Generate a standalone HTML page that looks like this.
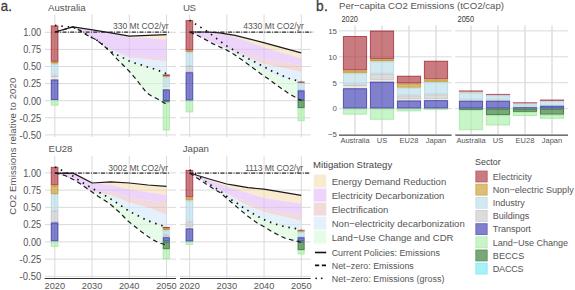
<!DOCTYPE html>
<html><head><meta charset="utf-8"><style>
html,body{margin:0;padding:0;background:#fff;overflow:hidden;width:575px;height:290px;}
svg{display:block;font-family:"Liberation Sans", sans-serif;}
</style></head><body>
<svg width="575" height="290" viewBox="0 0 575 290">
<rect width="575" height="290" fill="#fff"/>
<g>
<rect width="575" height="290" fill="#fff"/>
<line x1="45.00" y1="32.30" x2="176.00" y2="32.30" stroke="#dadada" stroke-width="1"/>
<line x1="45.00" y1="49.40" x2="176.00" y2="49.40" stroke="#dadada" stroke-width="1"/>
<line x1="45.00" y1="66.50" x2="176.00" y2="66.50" stroke="#dadada" stroke-width="1"/>
<line x1="45.00" y1="83.60" x2="176.00" y2="83.60" stroke="#dadada" stroke-width="1"/>
<line x1="45.00" y1="100.70" x2="176.00" y2="100.70" stroke="#dadada" stroke-width="1"/>
<line x1="45.00" y1="117.80" x2="176.00" y2="117.80" stroke="#dadada" stroke-width="1"/>
<line x1="45.00" y1="134.90" x2="176.00" y2="134.90" stroke="#dadada" stroke-width="1"/>
<line x1="54.80" y1="14.50" x2="54.80" y2="137.00" stroke="#dadada" stroke-width="1"/>
<line x1="92.03" y1="14.50" x2="92.03" y2="137.00" stroke="#dadada" stroke-width="1"/>
<line x1="129.26" y1="14.50" x2="129.26" y2="137.00" stroke="#dadada" stroke-width="1"/>
<line x1="166.49" y1="14.50" x2="166.49" y2="137.00" stroke="#dadada" stroke-width="1"/>
<line x1="45.00" y1="172.85" x2="176.00" y2="172.85" stroke="#dadada" stroke-width="1"/>
<line x1="45.00" y1="190.10" x2="176.00" y2="190.10" stroke="#dadada" stroke-width="1"/>
<line x1="45.00" y1="207.35" x2="176.00" y2="207.35" stroke="#dadada" stroke-width="1"/>
<line x1="45.00" y1="224.60" x2="176.00" y2="224.60" stroke="#dadada" stroke-width="1"/>
<line x1="45.00" y1="241.85" x2="176.00" y2="241.85" stroke="#dadada" stroke-width="1"/>
<line x1="45.00" y1="259.10" x2="176.00" y2="259.10" stroke="#dadada" stroke-width="1"/>
<line x1="45.00" y1="276.35" x2="176.00" y2="276.35" stroke="#dadada" stroke-width="1"/>
<line x1="54.80" y1="156.00" x2="54.80" y2="278.00" stroke="#dadada" stroke-width="1"/>
<line x1="92.03" y1="156.00" x2="92.03" y2="278.00" stroke="#dadada" stroke-width="1"/>
<line x1="129.26" y1="156.00" x2="129.26" y2="278.00" stroke="#dadada" stroke-width="1"/>
<line x1="166.49" y1="156.00" x2="166.49" y2="278.00" stroke="#dadada" stroke-width="1"/>
<line x1="180.00" y1="32.30" x2="310.70" y2="32.30" stroke="#dadada" stroke-width="1"/>
<line x1="180.00" y1="49.40" x2="310.70" y2="49.40" stroke="#dadada" stroke-width="1"/>
<line x1="180.00" y1="66.50" x2="310.70" y2="66.50" stroke="#dadada" stroke-width="1"/>
<line x1="180.00" y1="83.60" x2="310.70" y2="83.60" stroke="#dadada" stroke-width="1"/>
<line x1="180.00" y1="100.70" x2="310.70" y2="100.70" stroke="#dadada" stroke-width="1"/>
<line x1="180.00" y1="117.80" x2="310.70" y2="117.80" stroke="#dadada" stroke-width="1"/>
<line x1="180.00" y1="134.90" x2="310.70" y2="134.90" stroke="#dadada" stroke-width="1"/>
<line x1="189.60" y1="14.50" x2="189.60" y2="137.00" stroke="#dadada" stroke-width="1"/>
<line x1="226.83" y1="14.50" x2="226.83" y2="137.00" stroke="#dadada" stroke-width="1"/>
<line x1="264.06" y1="14.50" x2="264.06" y2="137.00" stroke="#dadada" stroke-width="1"/>
<line x1="301.29" y1="14.50" x2="301.29" y2="137.00" stroke="#dadada" stroke-width="1"/>
<line x1="180.00" y1="172.85" x2="310.70" y2="172.85" stroke="#dadada" stroke-width="1"/>
<line x1="180.00" y1="190.10" x2="310.70" y2="190.10" stroke="#dadada" stroke-width="1"/>
<line x1="180.00" y1="207.35" x2="310.70" y2="207.35" stroke="#dadada" stroke-width="1"/>
<line x1="180.00" y1="224.60" x2="310.70" y2="224.60" stroke="#dadada" stroke-width="1"/>
<line x1="180.00" y1="241.85" x2="310.70" y2="241.85" stroke="#dadada" stroke-width="1"/>
<line x1="180.00" y1="259.10" x2="310.70" y2="259.10" stroke="#dadada" stroke-width="1"/>
<line x1="180.00" y1="276.35" x2="310.70" y2="276.35" stroke="#dadada" stroke-width="1"/>
<line x1="189.60" y1="156.00" x2="189.60" y2="278.00" stroke="#dadada" stroke-width="1"/>
<line x1="226.83" y1="156.00" x2="226.83" y2="278.00" stroke="#dadada" stroke-width="1"/>
<line x1="264.06" y1="156.00" x2="264.06" y2="278.00" stroke="#dadada" stroke-width="1"/>
<line x1="301.29" y1="156.00" x2="301.29" y2="278.00" stroke="#dadada" stroke-width="1"/>
<polygon points="54.80,32.00 73.41,27.00 92.03,29.60 110.64,32.80 129.26,36.20 147.88,35.40 166.49,34.70 166.49,39.80 147.88,38.00 129.26,37.40 110.64,33.40 92.03,29.80 73.41,27.00 54.80,32.00" fill="rgb(247,220,175)" fill-opacity="0.6"/>
<polygon points="54.80,32.00 73.41,27.00 92.03,29.80 110.64,33.40 129.26,37.40 147.88,38.00 166.49,39.80 166.49,58.60 147.88,58.00 129.26,56.80 110.64,49.00 92.03,37.20 73.41,27.20 54.80,32.00" fill="rgb(223,183,247)" fill-opacity="0.6"/>
<polygon points="54.80,32.00 73.41,27.20 92.03,37.20 110.64,49.00 129.26,56.80 147.88,58.00 166.49,58.60 166.49,61.50 147.88,59.60 129.26,57.80 110.64,49.40 92.03,37.30 73.41,27.20 54.80,32.00" fill="rgb(235,193,193)" fill-opacity="0.6"/>
<polygon points="54.80,32.00 73.41,27.20 92.03,37.30 110.64,49.40 129.26,57.80 147.88,59.60 166.49,61.50 166.49,73.80 147.88,67.30 129.26,61.30 110.64,52.20 92.03,37.50 73.41,27.30 54.80,32.00" fill="rgb(210,230,250)" fill-opacity="0.6"/>
<polygon points="54.80,32.00 73.41,27.30 92.03,37.50 110.64,52.20 129.26,61.30 147.88,67.30 166.49,73.80 166.49,104.30 147.88,94.00 129.26,71.50 110.64,52.20 92.03,37.50 73.41,27.30 54.80,32.00" fill="rgb(213,248,217)" fill-opacity="0.6"/>
<polygon points="189.60,32.00 208.22,32.00 226.83,33.60 245.44,38.00 264.06,42.90 282.68,47.80 301.29,52.90 301.29,58.30 282.68,53.00 264.06,47.50 245.44,40.50 226.83,35.00 208.22,32.20 189.60,32.00" fill="rgb(247,220,175)" fill-opacity="0.6"/>
<polygon points="189.60,32.00 208.22,32.20 226.83,35.00 245.44,40.50 264.06,47.50 282.68,53.00 301.29,58.30 301.29,65.20 282.68,62.50 264.06,59.50 245.44,54.50 226.83,48.00 208.22,40.50 189.60,32.00" fill="rgb(223,183,247)" fill-opacity="0.6"/>
<polygon points="189.60,32.00 208.22,40.50 226.83,48.00 245.44,54.50 264.06,59.50 282.68,62.50 301.29,65.20 301.29,72.10 282.68,68.00 264.06,64.00 245.44,56.50 226.83,48.50 208.22,40.70 189.60,32.00" fill="rgb(235,193,193)" fill-opacity="0.6"/>
<polygon points="189.60,32.00 208.22,40.70 226.83,48.50 245.44,56.50 264.06,64.00 282.68,68.00 301.29,72.10 301.29,81.50 282.68,78.00 264.06,70.00 245.44,59.00 226.83,48.80 208.22,40.90 189.60,32.00" fill="rgb(210,230,250)" fill-opacity="0.6"/>
<polygon points="189.60,32.00 208.22,40.90 226.83,48.80 245.44,59.00 264.06,70.00 282.68,78.00 301.29,81.50 301.29,100.60 282.68,88.50 264.06,75.50 245.44,61.50 226.83,49.90 208.22,40.90 189.60,32.00" fill="rgb(213,248,217)" fill-opacity="0.6"/>
<polygon points="54.80,173.20 73.41,173.40 92.03,183.00 110.64,181.60 129.26,182.60 147.88,184.60 166.49,186.40 166.49,195.00 147.88,192.30 129.26,189.50 110.64,184.70 92.03,183.50 73.41,173.60 54.80,173.20" fill="rgb(247,220,175)" fill-opacity="0.6"/>
<polygon points="54.80,173.20 73.41,173.60 92.03,183.50 110.64,184.70 129.26,189.50 147.88,192.30 166.49,195.00 166.49,202.50 147.88,200.50 129.26,197.80 110.64,191.60 92.03,191.50 73.41,179.50 54.80,173.20" fill="rgb(223,183,247)" fill-opacity="0.6"/>
<polygon points="54.80,173.20 73.41,179.50 92.03,191.50 110.64,191.60 129.26,197.80 147.88,200.50 166.49,202.50 166.49,214.70 147.88,207.60 129.26,202.60 110.64,195.00 92.03,191.70 73.41,179.60 54.80,173.20" fill="rgb(235,193,193)" fill-opacity="0.6"/>
<polygon points="54.80,173.20 73.41,179.60 92.03,191.70 110.64,195.00 129.26,202.60 147.88,207.60 166.49,214.70 166.49,226.80 147.88,220.60 129.26,211.20 110.64,198.60 92.03,192.00 73.41,179.70 54.80,173.20" fill="rgb(210,230,250)" fill-opacity="0.6"/>
<polygon points="54.80,173.20 73.41,179.70 92.03,192.00 110.64,198.60 129.26,211.20 147.88,220.60 166.49,226.80 166.49,245.00 147.88,236.00 129.26,222.50 110.64,205.20 92.03,192.30 73.41,179.80 54.80,173.20" fill="rgb(213,248,217)" fill-opacity="0.6"/>
<polygon points="189.60,173.00 208.22,178.50 226.83,184.00 245.44,187.20 264.06,189.10 282.68,192.20 301.29,195.30 301.29,203.70 282.68,201.00 264.06,198.10 245.44,192.20 226.83,186.80 208.22,179.80 189.60,173.00" fill="rgb(247,220,175)" fill-opacity="0.6"/>
<polygon points="189.60,173.00 208.22,179.80 226.83,186.80 245.44,192.20 264.06,198.10 282.68,201.00 301.29,203.70 301.29,215.10 282.68,212.20 264.06,209.10 245.44,200.90 226.83,193.40 208.22,184.00 189.60,173.00" fill="rgb(223,183,247)" fill-opacity="0.6"/>
<polygon points="189.60,173.00 208.22,184.00 226.83,193.40 245.44,200.90 264.06,209.10 282.68,212.20 301.29,215.10 301.29,220.80 282.68,216.50 264.06,211.90 245.44,204.50 226.83,193.80 208.22,184.20 189.60,173.00" fill="rgb(235,193,193)" fill-opacity="0.6"/>
<polygon points="189.60,173.00 208.22,184.20 226.83,193.80 245.44,204.50 264.06,211.90 282.68,216.50 301.29,220.80 301.29,229.70 282.68,225.50 264.06,219.00 245.44,211.00 226.83,197.50 208.22,185.00 189.60,173.00" fill="rgb(210,230,250)" fill-opacity="0.6"/>
<polygon points="189.60,173.00 208.22,185.00 226.83,197.50 245.44,211.00 264.06,219.00 282.68,225.50 301.29,229.70 301.29,242.30 282.68,237.50 264.06,227.00 245.44,212.50 226.83,197.80 208.22,185.20 189.60,173.00" fill="rgb(213,248,217)" fill-opacity="0.6"/>
<rect x="51.25" y="25.90" width="6.70" height="35.40" fill="rgb(172,52,60)" stroke="rgb(147,10,26)" stroke-width="1" fill-opacity="0.65" stroke-opacity="0.65"/>
<rect x="51.25" y="62.30" width="6.70" height="0.90" fill="rgb(201,157,44)" stroke="rgb(181,130,4)" stroke-width="1" fill-opacity="0.65" stroke-opacity="0.65"/>
<rect x="51.25" y="64.20" width="6.70" height="11.00" fill="rgb(187,221,233)" stroke="rgb(166,207,223)" stroke-width="1" fill-opacity="0.65" stroke-opacity="0.65"/>
<rect x="51.25" y="76.20" width="6.70" height="0.80" fill="rgb(201,201,201)" stroke="rgb(183,183,183)" stroke-width="1" fill-opacity="0.65" stroke-opacity="0.65"/>
<rect x="51.25" y="78.00" width="6.70" height="0.90" fill="rgb(237,232,212)" stroke="rgb(237,232,212)" stroke-width="1" fill-opacity="0.65" stroke-opacity="0.65"/>
<rect x="51.25" y="79.90" width="6.70" height="19.70" fill="rgb(60,60,177)" stroke="rgb(26,26,157)" stroke-width="1" fill-opacity="0.65" stroke-opacity="0.65"/>
<rect x="51.25" y="100.60" width="6.70" height="4.60" fill="rgb(170,240,170)" stroke="rgb(146,226,146)" stroke-width="1" fill-opacity="0.65" stroke-opacity="0.65"/>
<rect x="163.20" y="74.90" width="6.20" height="0.80" fill="rgb(172,52,60)" stroke="rgb(147,10,26)" stroke-width="1" fill-opacity="0.65" stroke-opacity="0.65"/>
<rect x="162.70" y="76.20" width="7.20" height="0.80" fill="rgb(181,130,4)" fill-opacity="0.65"/>
<rect x="163.20" y="77.50" width="6.20" height="9.40" fill="rgb(187,221,233)" stroke="rgb(166,207,223)" stroke-width="1" fill-opacity="0.65" stroke-opacity="0.65"/>
<rect x="163.20" y="87.90" width="6.20" height="0.90" fill="rgb(237,232,212)" stroke="rgb(237,232,212)" stroke-width="1" fill-opacity="0.65" stroke-opacity="0.65"/>
<rect x="163.20" y="89.80" width="6.20" height="10.70" fill="rgb(60,60,177)" stroke="rgb(26,26,157)" stroke-width="1" fill-opacity="0.65" stroke-opacity="0.65"/>
<rect x="162.70" y="101.00" width="7.20" height="1.40" fill="rgb(9,87,9)" fill-opacity="0.65"/>
<rect x="163.20" y="102.90" width="6.20" height="27.20" fill="rgb(170,240,170)" stroke="rgb(146,226,146)" stroke-width="1" fill-opacity="0.65" stroke-opacity="0.65"/>
<rect x="186.05" y="20.60" width="6.70" height="29.50" fill="rgb(172,52,60)" stroke="rgb(147,10,26)" stroke-width="1" fill-opacity="0.65" stroke-opacity="0.65"/>
<rect x="186.05" y="51.10" width="6.70" height="0.70" fill="rgb(201,157,44)" stroke="rgb(181,130,4)" stroke-width="1" fill-opacity="0.65" stroke-opacity="0.65"/>
<rect x="186.05" y="52.80" width="6.70" height="12.70" fill="rgb(187,221,233)" stroke="rgb(166,207,223)" stroke-width="1" fill-opacity="0.65" stroke-opacity="0.65"/>
<rect x="186.05" y="66.50" width="6.70" height="5.20" fill="rgb(201,201,201)" stroke="rgb(183,183,183)" stroke-width="1" fill-opacity="0.65" stroke-opacity="0.65"/>
<rect x="186.05" y="72.70" width="6.70" height="27.40" fill="rgb(60,60,177)" stroke="rgb(26,26,157)" stroke-width="1" fill-opacity="0.65" stroke-opacity="0.65"/>
<rect x="186.05" y="101.10" width="6.70" height="10.80" fill="rgb(170,240,170)" stroke="rgb(146,226,146)" stroke-width="1" fill-opacity="0.65" stroke-opacity="0.65"/>
<rect x="297.50" y="81.50" width="7.20" height="1.50" fill="rgb(147,10,26)" fill-opacity="0.65"/>
<rect x="298.00" y="83.50" width="6.20" height="6.30" fill="rgb(187,221,233)" stroke="rgb(166,207,223)" stroke-width="1" fill-opacity="0.65" stroke-opacity="0.65"/>
<rect x="298.00" y="90.80" width="6.20" height="8.70" fill="rgb(60,60,177)" stroke="rgb(26,26,157)" stroke-width="1" fill-opacity="0.65" stroke-opacity="0.65"/>
<rect x="298.00" y="100.50" width="6.20" height="7.20" fill="rgb(47,121,47)" stroke="rgb(9,87,9)" stroke-width="1" fill-opacity="0.65" stroke-opacity="0.65"/>
<rect x="298.00" y="108.70" width="6.20" height="12.00" fill="rgb(170,240,170)" stroke="rgb(146,226,146)" stroke-width="1" fill-opacity="0.65" stroke-opacity="0.65"/>
<rect x="51.25" y="167.30" width="6.70" height="17.70" fill="rgb(172,52,60)" stroke="rgb(147,10,26)" stroke-width="1" fill-opacity="0.65" stroke-opacity="0.65"/>
<rect x="51.25" y="186.00" width="6.70" height="7.70" fill="rgb(201,157,44)" stroke="rgb(181,130,4)" stroke-width="1" fill-opacity="0.65" stroke-opacity="0.65"/>
<rect x="51.25" y="194.70" width="6.70" height="15.70" fill="rgb(187,221,233)" stroke="rgb(166,207,223)" stroke-width="1" fill-opacity="0.65" stroke-opacity="0.65"/>
<rect x="51.25" y="211.40" width="6.70" height="10.50" fill="rgb(201,201,201)" stroke="rgb(183,183,183)" stroke-width="1" fill-opacity="0.65" stroke-opacity="0.65"/>
<rect x="51.25" y="222.90" width="6.70" height="18.00" fill="rgb(60,60,177)" stroke="rgb(26,26,157)" stroke-width="1" fill-opacity="0.65" stroke-opacity="0.65"/>
<rect x="51.25" y="241.90" width="6.70" height="4.40" fill="rgb(170,240,170)" stroke="rgb(146,226,146)" stroke-width="1" fill-opacity="0.65" stroke-opacity="0.65"/>
<rect x="163.20" y="227.40" width="6.20" height="0.70" fill="rgb(172,52,60)" stroke="rgb(147,10,26)" stroke-width="1" fill-opacity="0.65" stroke-opacity="0.65"/>
<rect x="163.20" y="229.10" width="6.20" height="0.70" fill="rgb(201,157,44)" stroke="rgb(181,130,4)" stroke-width="1" fill-opacity="0.65" stroke-opacity="0.65"/>
<rect x="163.20" y="230.80" width="6.20" height="3.40" fill="rgb(187,221,233)" stroke="rgb(166,207,223)" stroke-width="1" fill-opacity="0.65" stroke-opacity="0.65"/>
<rect x="163.20" y="235.20" width="6.20" height="1.50" fill="rgb(201,201,201)" stroke="rgb(183,183,183)" stroke-width="1" fill-opacity="0.65" stroke-opacity="0.65"/>
<rect x="163.20" y="237.70" width="6.20" height="3.40" fill="rgb(60,60,177)" stroke="rgb(26,26,157)" stroke-width="1" fill-opacity="0.65" stroke-opacity="0.65"/>
<rect x="163.20" y="242.10" width="6.20" height="6.70" fill="rgb(47,121,47)" stroke="rgb(9,87,9)" stroke-width="1" fill-opacity="0.65" stroke-opacity="0.65"/>
<rect x="163.20" y="249.80" width="6.20" height="9.00" fill="rgb(170,240,170)" stroke="rgb(146,226,146)" stroke-width="1" fill-opacity="0.65" stroke-opacity="0.65"/>
<rect x="186.05" y="170.40" width="6.70" height="26.50" fill="rgb(172,52,60)" stroke="rgb(147,10,26)" stroke-width="1" fill-opacity="0.65" stroke-opacity="0.65"/>
<rect x="186.05" y="197.90" width="6.70" height="2.10" fill="rgb(201,157,44)" stroke="rgb(181,130,4)" stroke-width="1" fill-opacity="0.65" stroke-opacity="0.65"/>
<rect x="186.05" y="201.00" width="6.70" height="20.10" fill="rgb(187,221,233)" stroke="rgb(166,207,223)" stroke-width="1" fill-opacity="0.65" stroke-opacity="0.65"/>
<rect x="186.05" y="222.10" width="6.70" height="4.80" fill="rgb(201,201,201)" stroke="rgb(183,183,183)" stroke-width="1" fill-opacity="0.65" stroke-opacity="0.65"/>
<rect x="185.55" y="227.40" width="7.70" height="0.90" fill="rgb(237,232,212)" fill-opacity="0.65"/>
<rect x="186.05" y="228.80" width="6.70" height="12.30" fill="rgb(60,60,177)" stroke="rgb(26,26,157)" stroke-width="1" fill-opacity="0.65" stroke-opacity="0.65"/>
<rect x="186.05" y="242.10" width="6.70" height="2.30" fill="rgb(170,240,170)" stroke="rgb(146,226,146)" stroke-width="1" fill-opacity="0.65" stroke-opacity="0.65"/>
<rect x="297.50" y="229.80" width="7.20" height="1.10" fill="rgb(147,10,26)" fill-opacity="0.65"/>
<rect x="297.50" y="230.90" width="7.20" height="1.10" fill="rgb(181,130,4)" fill-opacity="0.65"/>
<rect x="298.00" y="232.50" width="6.20" height="4.20" fill="rgb(187,221,233)" stroke="rgb(166,207,223)" stroke-width="1" fill-opacity="0.65" stroke-opacity="0.65"/>
<rect x="298.00" y="237.70" width="6.20" height="3.40" fill="rgb(60,60,177)" stroke="rgb(26,26,157)" stroke-width="1" fill-opacity="0.65" stroke-opacity="0.65"/>
<rect x="298.00" y="242.10" width="6.20" height="7.60" fill="rgb(47,121,47)" stroke="rgb(9,87,9)" stroke-width="1" fill-opacity="0.65" stroke-opacity="0.65"/>
<rect x="298.00" y="250.70" width="6.20" height="3.30" fill="rgb(170,240,170)" stroke="rgb(146,226,146)" stroke-width="1" fill-opacity="0.65" stroke-opacity="0.65"/>
<line x1="54.80" y1="32.1" x2="170.40" y2="32.1" stroke="#2e2e2e" stroke-width="1.1" stroke-dasharray="4 1.4 0.9 1.4"/>
<line x1="189.60" y1="32.1" x2="313.20" y2="32.1" stroke="#2e2e2e" stroke-width="1.1" stroke-dasharray="4 1.4 0.9 1.4"/>
<line x1="54.80" y1="173.1" x2="168.80" y2="173.1" stroke="#2e2e2e" stroke-width="1.1" stroke-dasharray="4 1.4 0.9 1.4"/>
<line x1="189.60" y1="173.1" x2="310.00" y2="173.1" stroke="#2e2e2e" stroke-width="1.1" stroke-dasharray="4 1.4 0.9 1.4"/>
<polyline points="55.00,32.00 72.90,26.90 91.00,29.60 110.80,32.80 129.30,36.20 147.90,35.40 166.50,34.70" fill="none" stroke="#1a1a1a" stroke-width="1.2" stroke-linejoin="round"/>
<polyline points="55.00,32.00 72.90,27.00 80.00,30.50 86.40,34.70 91.00,37.30 95.70,39.40 103.30,45.30 110.20,51.60 117.10,59.10 124.00,66.00 130.90,73.00 138.30,82.00 146.60,92.80 150.70,95.50 157.60,99.00 166.50,104.30" fill="none" stroke="#1a1a1a" stroke-width="1.2" stroke-dasharray="4.6 3.4"/>
<polyline points="55.00,25.40 62.00,26.20 72.90,27.20 80.00,30.40 86.40,34.50 91.00,37.10 95.70,39.20 103.30,45.10 109.50,50.60 115.70,54.30 121.90,57.10 127.40,60.30 132.90,62.60 140.70,64.70 147.00,66.80 156.00,69.50 166.50,73.80" fill="none" stroke="#111" stroke-width="1.7" stroke-dasharray="1.5 4.9"/>
<polyline points="189.60,32.00 207.60,32.00 219.50,32.80 235.00,35.40 264.50,42.90 280.00,47.20 301.20,52.90" fill="none" stroke="#1a1a1a" stroke-width="1.2" stroke-linejoin="round"/>
<polyline points="189.60,32.00 198.80,36.00 212.60,43.60 226.40,49.90 234.00,54.30 240.00,58.50 250.00,65.70 260.30,73.40 268.60,79.10 276.90,85.30 288.00,93.00 301.20,100.60" fill="none" stroke="#1a1a1a" stroke-width="1.2" stroke-dasharray="4.6 3.4"/>
<polyline points="189.60,20.10 195.40,24.00 201.00,27.40 206.50,31.00 211.20,34.40 216.10,38.10 221.20,41.90 226.00,45.70 231.70,48.80 237.00,52.00 242.00,55.50 253.00,61.00 264.50,67.00 270.20,70.30 275.90,72.60 281.40,75.30 287.40,77.90 293.30,79.70 301.20,81.50" fill="none" stroke="#111" stroke-width="1.7" stroke-dasharray="1.5 4.9"/>
<polyline points="55.00,173.20 73.60,173.40 92.20,183.00 110.80,181.90 129.30,183.00 147.90,185.00 166.50,186.40" fill="none" stroke="#1a1a1a" stroke-width="1.2" stroke-linejoin="round"/>
<polyline points="55.00,173.20 60.00,174.00 65.70,175.70 76.00,180.90 86.40,188.10 96.80,195.40 108.00,202.50 114.20,207.50 120.00,212.80 127.60,220.70 141.40,231.70 151.00,238.60 158.00,242.50 166.50,245.00" fill="none" stroke="#1a1a1a" stroke-width="1.2" stroke-dasharray="4.6 3.4"/>
<polyline points="55.00,167.00 60.50,169.50 66.00,172.50 71.90,175.30 78.10,179.80 86.40,185.00 93.70,189.20 99.50,192.50 104.80,195.40 109.70,198.40 114.90,201.60 120.40,205.30 125.50,208.80 130.60,212.00 136.10,214.70 142.00,217.80 147.40,220.50 153.70,222.80 159.60,225.00 166.50,226.80" fill="none" stroke="#111" stroke-width="1.7" stroke-dasharray="1.5 4.9"/>
<polyline points="189.60,173.00 207.60,178.50 226.70,184.00 235.00,185.30 248.00,187.70 263.90,189.10 282.00,192.20 301.20,195.30" fill="none" stroke="#1a1a1a" stroke-width="1.2" stroke-linejoin="round"/>
<polyline points="189.60,173.00 207.60,185.00 220.00,192.60 226.20,197.80 233.80,204.30 247.60,216.00 257.20,222.90 264.50,227.00 271.40,231.40 285.20,238.30 301.20,242.30" fill="none" stroke="#1a1a1a" stroke-width="1.2" stroke-dasharray="4.6 3.4"/>
<polyline points="189.60,170.00 195.00,173.50 207.60,183.00 221.40,191.90 225.50,195.30 231.00,199.50 236.30,202.70 241.40,206.40 246.90,209.80 252.10,213.30 257.20,216.00 262.60,219.00 268.60,221.60 275.50,224.10 281.60,225.90 286.70,227.10 293.60,228.10 301.20,229.70" fill="none" stroke="#111" stroke-width="1.7" stroke-dasharray="1.5 4.9"/>
<text x="112.90" y="28.80" font-size="8.5" text-anchor="start" fill="#555" font-weight="normal" textLength="55.60" lengthAdjust="spacing">330 Mt CO2/yr</text>
<text x="243.30" y="28.80" font-size="8.5" text-anchor="start" fill="#555" font-weight="normal" textLength="60.60" lengthAdjust="spacing">4330 Mt CO2/yr</text>
<text x="108.30" y="170.75" font-size="8.5" text-anchor="start" fill="#555" font-weight="normal" textLength="59.90" lengthAdjust="spacing">3002 Mt CO2/yr</text>
<text x="244.90" y="170.75" font-size="8.5" text-anchor="start" fill="#555" font-weight="normal" textLength="58.30" lengthAdjust="spacing">1113 Mt CO2/yr</text>
<line x1="44.70" y1="278.50" x2="176.00" y2="278.50" stroke="#333" stroke-width="1"/>
<line x1="180.00" y1="278.50" x2="310.70" y2="278.50" stroke="#333" stroke-width="1"/>
<text x="48.00" y="11.00" font-size="9.66" text-anchor="start" fill="#555555" font-weight="normal" textLength="37.60" lengthAdjust="spacing">Australia</text>
<text x="182.90" y="11.00" font-size="9.66" text-anchor="start" fill="#555555" font-weight="normal" textLength="13.00" lengthAdjust="spacing">US</text>
<text x="48.60" y="152.20" font-size="9.66" text-anchor="start" fill="#555555" font-weight="normal" textLength="23.70" lengthAdjust="spacing">EU28</text>
<text x="182.80" y="152.20" font-size="9.66" text-anchor="start" fill="#555555" font-weight="normal" textLength="26.10" lengthAdjust="spacing">Japan</text>
<text x="41.20" y="36.10" font-size="10" text-anchor="end" fill="#555555" font-weight="normal" textLength="18.00" lengthAdjust="spacingAndGlyphs">1.00</text>
<text x="41.20" y="53.20" font-size="10" text-anchor="end" fill="#555555" font-weight="normal" textLength="18.00" lengthAdjust="spacingAndGlyphs">0.75</text>
<text x="41.20" y="70.30" font-size="10" text-anchor="end" fill="#555555" font-weight="normal" textLength="18.00" lengthAdjust="spacingAndGlyphs">0.50</text>
<text x="41.20" y="87.40" font-size="10" text-anchor="end" fill="#555555" font-weight="normal" textLength="18.00" lengthAdjust="spacingAndGlyphs">0.25</text>
<text x="41.20" y="104.50" font-size="10" text-anchor="end" fill="#555555" font-weight="normal" textLength="18.00" lengthAdjust="spacingAndGlyphs">0.00</text>
<text x="41.20" y="121.60" font-size="10" text-anchor="end" fill="#555555" font-weight="normal" textLength="21.60" lengthAdjust="spacingAndGlyphs">-0.25</text>
<text x="41.20" y="138.70" font-size="10" text-anchor="end" fill="#555555" font-weight="normal" textLength="21.60" lengthAdjust="spacingAndGlyphs">-0.50</text>
<text x="41.20" y="176.65" font-size="10" text-anchor="end" fill="#555555" font-weight="normal" textLength="18.00" lengthAdjust="spacingAndGlyphs">1.00</text>
<text x="41.20" y="193.90" font-size="10" text-anchor="end" fill="#555555" font-weight="normal" textLength="18.00" lengthAdjust="spacingAndGlyphs">0.75</text>
<text x="41.20" y="211.15" font-size="10" text-anchor="end" fill="#555555" font-weight="normal" textLength="18.00" lengthAdjust="spacingAndGlyphs">0.50</text>
<text x="41.20" y="228.40" font-size="10" text-anchor="end" fill="#555555" font-weight="normal" textLength="18.00" lengthAdjust="spacingAndGlyphs">0.25</text>
<text x="41.20" y="245.65" font-size="10" text-anchor="end" fill="#555555" font-weight="normal" textLength="18.00" lengthAdjust="spacingAndGlyphs">0.00</text>
<text x="41.20" y="262.90" font-size="10" text-anchor="end" fill="#555555" font-weight="normal" textLength="21.60" lengthAdjust="spacingAndGlyphs">-0.25</text>
<text x="41.20" y="280.15" font-size="10" text-anchor="end" fill="#555555" font-weight="normal" textLength="21.60" lengthAdjust="spacingAndGlyphs">-0.50</text>
<text x="54.80" y="288.60" font-size="9.8" text-anchor="middle" fill="#555555" font-weight="normal" textLength="20.50" lengthAdjust="spacingAndGlyphs">2020</text>
<text x="92.03" y="288.60" font-size="9.8" text-anchor="middle" fill="#555555" font-weight="normal" textLength="20.50" lengthAdjust="spacingAndGlyphs">2030</text>
<text x="129.26" y="288.60" font-size="9.8" text-anchor="middle" fill="#555555" font-weight="normal" textLength="20.50" lengthAdjust="spacingAndGlyphs">2040</text>
<text x="166.49" y="288.60" font-size="9.8" text-anchor="middle" fill="#555555" font-weight="normal" textLength="20.50" lengthAdjust="spacingAndGlyphs">2050</text>
<text x="189.60" y="288.60" font-size="9.8" text-anchor="middle" fill="#555555" font-weight="normal" textLength="20.50" lengthAdjust="spacingAndGlyphs">2020</text>
<text x="226.83" y="288.60" font-size="9.8" text-anchor="middle" fill="#555555" font-weight="normal" textLength="20.50" lengthAdjust="spacingAndGlyphs">2030</text>
<text x="264.06" y="288.60" font-size="9.8" text-anchor="middle" fill="#555555" font-weight="normal" textLength="20.50" lengthAdjust="spacingAndGlyphs">2040</text>
<text x="301.29" y="288.60" font-size="9.8" text-anchor="middle" fill="#555555" font-weight="normal" textLength="20.50" lengthAdjust="spacingAndGlyphs">2050</text>
<text x="0" y="0" font-size="9.6" fill="#555555" text-anchor="middle" textLength="136.9" lengthAdjust="spacing" transform="translate(16.2,146.2) rotate(-90)">CO2 Emissions relative to 2020</text>
<text x="0.80" y="10.90" font-size="14.2" text-anchor="start" fill="#3c3c3c" font-weight="normal" textLength="11.00" lengthAdjust="spacingAndGlyphs" stroke="#3c3c3c" stroke-width="0.3">a.</text>
<line x1="339.00" y1="30.90" x2="451.70" y2="30.90" stroke="#dadada" stroke-width="1"/>
<line x1="339.00" y1="56.80" x2="451.70" y2="56.80" stroke="#dadada" stroke-width="1"/>
<line x1="339.00" y1="82.70" x2="451.70" y2="82.70" stroke="#dadada" stroke-width="1"/>
<line x1="339.00" y1="108.60" x2="451.70" y2="108.60" stroke="#dadada" stroke-width="1"/>
<line x1="339.00" y1="134.50" x2="451.70" y2="134.50" stroke="#dadada" stroke-width="1"/>
<line x1="455.20" y1="30.90" x2="568.00" y2="30.90" stroke="#dadada" stroke-width="1"/>
<line x1="455.20" y1="56.80" x2="568.00" y2="56.80" stroke="#dadada" stroke-width="1"/>
<line x1="455.20" y1="82.70" x2="568.00" y2="82.70" stroke="#dadada" stroke-width="1"/>
<line x1="455.20" y1="108.60" x2="568.00" y2="108.60" stroke="#dadada" stroke-width="1"/>
<line x1="455.20" y1="134.50" x2="568.00" y2="134.50" stroke="#dadada" stroke-width="1"/>
<line x1="355.00" y1="25.40" x2="355.00" y2="134.50" stroke="#dadada" stroke-width="1.3"/>
<line x1="382.00" y1="25.40" x2="382.00" y2="134.50" stroke="#dadada" stroke-width="1.3"/>
<line x1="409.00" y1="25.40" x2="409.00" y2="134.50" stroke="#dadada" stroke-width="1.3"/>
<line x1="436.00" y1="25.40" x2="436.00" y2="134.50" stroke="#dadada" stroke-width="1.3"/>
<line x1="471.00" y1="25.40" x2="471.00" y2="134.50" stroke="#dadada" stroke-width="1.3"/>
<line x1="498.00" y1="25.40" x2="498.00" y2="134.50" stroke="#dadada" stroke-width="1.3"/>
<line x1="525.00" y1="25.40" x2="525.00" y2="134.50" stroke="#dadada" stroke-width="1.3"/>
<line x1="552.00" y1="25.40" x2="552.00" y2="134.50" stroke="#dadada" stroke-width="1.3"/>
<rect x="343.40" y="36.50" width="23.20" height="33.50" fill="rgb(172,52,60)" stroke="rgb(147,10,26)" stroke-width="1" fill-opacity="0.65" stroke-opacity="0.65"/>
<rect x="343.40" y="71.00" width="23.20" height="1.80" fill="rgb(201,157,44)" stroke="rgb(181,130,4)" stroke-width="1" fill-opacity="0.65" stroke-opacity="0.65"/>
<rect x="343.40" y="73.80" width="23.20" height="10.10" fill="rgb(187,221,233)" stroke="rgb(166,207,223)" stroke-width="1" fill-opacity="0.65" stroke-opacity="0.65"/>
<rect x="343.40" y="84.90" width="23.20" height="1.10" fill="rgb(201,201,201)" stroke="rgb(183,183,183)" stroke-width="1" fill-opacity="0.65" stroke-opacity="0.65"/>
<rect x="343.40" y="87.00" width="23.20" height="0.70" fill="rgb(237,232,212)" stroke="rgb(237,232,212)" stroke-width="1" fill-opacity="0.65" stroke-opacity="0.65"/>
<rect x="343.40" y="88.70" width="23.20" height="19.40" fill="rgb(60,60,177)" stroke="rgb(26,26,157)" stroke-width="1" fill-opacity="0.65" stroke-opacity="0.65"/>
<rect x="343.40" y="109.10" width="23.20" height="5.10" fill="rgb(170,240,170)" stroke="rgb(146,226,146)" stroke-width="1" fill-opacity="0.65" stroke-opacity="0.65"/>
<rect x="370.40" y="31.00" width="23.20" height="27.80" fill="rgb(172,52,60)" stroke="rgb(147,10,26)" stroke-width="1" fill-opacity="0.65" stroke-opacity="0.65"/>
<rect x="370.40" y="59.80" width="23.20" height="1.10" fill="rgb(201,157,44)" stroke="rgb(181,130,4)" stroke-width="1" fill-opacity="0.65" stroke-opacity="0.65"/>
<rect x="370.40" y="61.90" width="23.20" height="11.40" fill="rgb(187,221,233)" stroke="rgb(166,207,223)" stroke-width="1" fill-opacity="0.65" stroke-opacity="0.65"/>
<rect x="370.40" y="74.30" width="23.20" height="5.10" fill="rgb(201,201,201)" stroke="rgb(183,183,183)" stroke-width="1" fill-opacity="0.65" stroke-opacity="0.65"/>
<rect x="370.40" y="80.40" width="23.20" height="0.70" fill="rgb(237,232,212)" stroke="rgb(237,232,212)" stroke-width="1" fill-opacity="0.65" stroke-opacity="0.65"/>
<rect x="370.40" y="82.10" width="23.20" height="26.00" fill="rgb(60,60,177)" stroke="rgb(26,26,157)" stroke-width="1" fill-opacity="0.65" stroke-opacity="0.65"/>
<rect x="370.40" y="109.10" width="23.20" height="10.20" fill="rgb(170,240,170)" stroke="rgb(146,226,146)" stroke-width="1" fill-opacity="0.65" stroke-opacity="0.65"/>
<rect x="397.40" y="76.20" width="23.20" height="6.90" fill="rgb(172,52,60)" stroke="rgb(147,10,26)" stroke-width="1" fill-opacity="0.65" stroke-opacity="0.65"/>
<rect x="397.40" y="84.10" width="23.20" height="3.10" fill="rgb(201,157,44)" stroke="rgb(181,130,4)" stroke-width="1" fill-opacity="0.65" stroke-opacity="0.65"/>
<rect x="397.40" y="88.20" width="23.20" height="6.70" fill="rgb(187,221,233)" stroke="rgb(166,207,223)" stroke-width="1" fill-opacity="0.65" stroke-opacity="0.65"/>
<rect x="397.40" y="95.90" width="23.20" height="3.10" fill="rgb(201,201,201)" stroke="rgb(183,183,183)" stroke-width="1" fill-opacity="0.65" stroke-opacity="0.65"/>
<rect x="396.90" y="99.50" width="24.20" height="0.90" fill="rgb(237,232,212)" fill-opacity="0.65"/>
<rect x="397.40" y="100.90" width="23.20" height="7.20" fill="rgb(60,60,177)" stroke="rgb(26,26,157)" stroke-width="1" fill-opacity="0.65" stroke-opacity="0.65"/>
<rect x="397.40" y="109.10" width="23.20" height="1.80" fill="rgb(170,240,170)" stroke="rgb(146,226,146)" stroke-width="1" fill-opacity="0.65" stroke-opacity="0.65"/>
<rect x="424.40" y="61.20" width="23.20" height="17.70" fill="rgb(172,52,60)" stroke="rgb(147,10,26)" stroke-width="1" fill-opacity="0.65" stroke-opacity="0.65"/>
<rect x="424.40" y="79.90" width="23.20" height="1.50" fill="rgb(201,157,44)" stroke="rgb(181,130,4)" stroke-width="1" fill-opacity="0.65" stroke-opacity="0.65"/>
<rect x="424.40" y="82.40" width="23.20" height="11.40" fill="rgb(187,221,233)" stroke="rgb(166,207,223)" stroke-width="1" fill-opacity="0.65" stroke-opacity="0.65"/>
<rect x="424.40" y="94.80" width="23.20" height="4.00" fill="rgb(201,201,201)" stroke="rgb(183,183,183)" stroke-width="1" fill-opacity="0.65" stroke-opacity="0.65"/>
<rect x="423.90" y="99.30" width="24.20" height="0.80" fill="rgb(237,232,212)" fill-opacity="0.65"/>
<rect x="424.40" y="100.60" width="23.20" height="7.50" fill="rgb(60,60,177)" stroke="rgb(26,26,157)" stroke-width="1" fill-opacity="0.65" stroke-opacity="0.65"/>
<rect x="423.90" y="108.60" width="24.20" height="1.50" fill="rgb(146,226,146)" fill-opacity="0.65"/>
<rect x="458.90" y="90.40" width="24.20" height="1.40" fill="rgb(147,10,26)" fill-opacity="0.65"/>
<rect x="458.90" y="91.80" width="24.20" height="0.70" fill="rgb(181,130,4)" fill-opacity="0.65"/>
<rect x="459.40" y="93.00" width="23.20" height="6.20" fill="rgb(187,221,233)" stroke="rgb(166,207,223)" stroke-width="1" fill-opacity="0.65" stroke-opacity="0.65"/>
<rect x="458.90" y="99.70" width="24.20" height="1.00" fill="rgb(183,183,183)" fill-opacity="0.65"/>
<rect x="459.40" y="101.20" width="23.20" height="6.90" fill="rgb(60,60,177)" stroke="rgb(26,26,157)" stroke-width="1" fill-opacity="0.65" stroke-opacity="0.65"/>
<rect x="458.90" y="108.60" width="24.20" height="1.40" fill="rgb(9,87,9)" fill-opacity="0.65"/>
<rect x="459.40" y="110.50" width="23.20" height="19.20" fill="rgb(170,240,170)" stroke="rgb(146,226,146)" stroke-width="1" fill-opacity="0.65" stroke-opacity="0.65"/>
<rect x="485.90" y="93.90" width="24.20" height="1.40" fill="rgb(147,10,26)" fill-opacity="0.65"/>
<rect x="486.40" y="95.80" width="23.20" height="3.40" fill="rgb(187,221,233)" stroke="rgb(166,207,223)" stroke-width="1" fill-opacity="0.65" stroke-opacity="0.65"/>
<rect x="485.90" y="99.70" width="24.20" height="1.00" fill="rgb(183,183,183)" fill-opacity="0.65"/>
<rect x="486.40" y="101.20" width="23.20" height="6.90" fill="rgb(60,60,177)" stroke="rgb(26,26,157)" stroke-width="1" fill-opacity="0.65" stroke-opacity="0.65"/>
<rect x="486.40" y="109.10" width="23.20" height="5.60" fill="rgb(47,121,47)" stroke="rgb(9,87,9)" stroke-width="1" fill-opacity="0.65" stroke-opacity="0.65"/>
<rect x="486.40" y="115.70" width="23.20" height="9.30" fill="rgb(170,240,170)" stroke="rgb(146,226,146)" stroke-width="1" fill-opacity="0.65" stroke-opacity="0.65"/>
<rect x="512.90" y="102.20" width="24.20" height="1.40" fill="rgb(147,10,26)" fill-opacity="0.65"/>
<rect x="513.40" y="104.10" width="23.20" height="1.80" fill="rgb(187,221,233)" stroke="rgb(166,207,223)" stroke-width="1" fill-opacity="0.65" stroke-opacity="0.65"/>
<rect x="512.90" y="106.40" width="24.20" height="0.60" fill="rgb(183,183,183)" fill-opacity="0.65"/>
<rect x="512.90" y="107.00" width="24.20" height="1.60" fill="rgb(26,26,157)" fill-opacity="0.65"/>
<rect x="513.40" y="109.10" width="23.20" height="2.30" fill="rgb(47,121,47)" stroke="rgb(9,87,9)" stroke-width="1" fill-opacity="0.65" stroke-opacity="0.65"/>
<rect x="513.40" y="112.40" width="23.20" height="3.10" fill="rgb(170,240,170)" stroke="rgb(146,226,146)" stroke-width="1" fill-opacity="0.65" stroke-opacity="0.65"/>
<rect x="539.90" y="99.50" width="24.20" height="1.60" fill="rgb(147,10,26)" fill-opacity="0.65"/>
<rect x="540.40" y="101.60" width="23.20" height="3.60" fill="rgb(187,221,233)" stroke="rgb(166,207,223)" stroke-width="1" fill-opacity="0.65" stroke-opacity="0.65"/>
<rect x="540.40" y="106.20" width="23.20" height="1.90" fill="rgb(60,60,177)" stroke="rgb(26,26,157)" stroke-width="1" fill-opacity="0.65" stroke-opacity="0.65"/>
<rect x="540.40" y="109.10" width="23.20" height="5.10" fill="rgb(47,121,47)" stroke="rgb(9,87,9)" stroke-width="1" fill-opacity="0.65" stroke-opacity="0.65"/>
<rect x="540.40" y="115.20" width="23.20" height="3.10" fill="rgb(170,240,170)" stroke="rgb(146,226,146)" stroke-width="1" fill-opacity="0.65" stroke-opacity="0.65"/>
<line x1="339.00" y1="135.20" x2="451.60" y2="135.20" stroke="#333" stroke-width="1"/>
<line x1="455.30" y1="135.20" x2="568.00" y2="135.20" stroke="#333" stroke-width="1"/>
<text x="337.00" y="33.70" font-size="7.9" text-anchor="end" fill="#555555" font-weight="normal">15</text>
<text x="337.00" y="59.60" font-size="7.9" text-anchor="end" fill="#555555" font-weight="normal">10</text>
<text x="337.00" y="85.50" font-size="7.9" text-anchor="end" fill="#555555" font-weight="normal">5</text>
<text x="337.00" y="111.40" font-size="7.9" text-anchor="end" fill="#555555" font-weight="normal">0</text>
<text x="337.00" y="137.30" font-size="7.9" text-anchor="end" fill="#555555" font-weight="normal">−5</text>
<text x="355.00" y="143.30" font-size="7.5" text-anchor="middle" fill="#555555" font-weight="normal">Australia</text>
<text x="382.00" y="143.30" font-size="7.5" text-anchor="middle" fill="#555555" font-weight="normal">US</text>
<text x="409.00" y="143.30" font-size="7.5" text-anchor="middle" fill="#555555" font-weight="normal">EU28</text>
<text x="436.00" y="143.30" font-size="7.5" text-anchor="middle" fill="#555555" font-weight="normal">Japan</text>
<text x="471.00" y="143.30" font-size="7.5" text-anchor="middle" fill="#555555" font-weight="normal">Australia</text>
<text x="498.00" y="143.30" font-size="7.5" text-anchor="middle" fill="#555555" font-weight="normal">US</text>
<text x="525.00" y="143.30" font-size="7.5" text-anchor="middle" fill="#555555" font-weight="normal">EU28</text>
<text x="552.00" y="143.30" font-size="7.5" text-anchor="middle" fill="#555555" font-weight="normal">Japan</text>
<text x="315.90" y="10.90" font-size="13.8" text-anchor="start" fill="#3c3c3c" font-weight="normal" textLength="12.00" lengthAdjust="spacing" stroke="#3c3c3c" stroke-width="0.3">b.</text>
<text x="339.00" y="8.60" font-size="9.6" text-anchor="start" fill="#555555" font-weight="normal" textLength="165.00" lengthAdjust="spacing">Per−capita CO2 Emissions (tCO2/cap)</text>
<text x="341.50" y="21.80" font-size="8.2" text-anchor="start" fill="#3a3a3a" font-weight="normal" textLength="16.50" lengthAdjust="spacingAndGlyphs">2020</text>
<text x="457.50" y="21.80" font-size="8.2" text-anchor="start" fill="#3a3a3a" font-weight="normal" textLength="16.70" lengthAdjust="spacingAndGlyphs">2050</text>
<text x="313.10" y="168.40" font-size="9.55" text-anchor="start" fill="#444" font-weight="normal" textLength="79.10" lengthAdjust="spacing">Mitigation Strategy</text>
<rect x="313.70" y="174.60" width="12.60" height="13.00" fill="#faeacf"/>
<text x="331.70" y="184.70" font-size="9.55" text-anchor="start" fill="#555555" font-weight="normal" textLength="114.50" lengthAdjust="spacing">Energy Demand Reduction</text>
<rect x="313.70" y="188.60" width="12.60" height="13.00" fill="#ecd4fa"/>
<text x="331.70" y="198.70" font-size="9.55" text-anchor="start" fill="#555555" font-weight="normal" textLength="112.70" lengthAdjust="spacing">Electricity Decarbonization</text>
<rect x="313.70" y="202.60" width="12.60" height="13.00" fill="#f3dada"/>
<text x="331.70" y="212.70" font-size="9.55" text-anchor="start" fill="#555555" font-weight="normal" textLength="56.60" lengthAdjust="spacing">Electrification</text>
<rect x="313.70" y="216.60" width="12.60" height="13.00" fill="#e4f0fc"/>
<text x="331.70" y="226.70" font-size="9.55" text-anchor="start" fill="#555555" font-weight="normal" textLength="133.00" lengthAdjust="spacing">Non−electricity decarbonization</text>
<rect x="313.70" y="230.60" width="12.60" height="13.00" fill="#e6fbe8"/>
<text x="331.70" y="240.70" font-size="9.55" text-anchor="start" fill="#555555" font-weight="normal" textLength="121.80" lengthAdjust="spacing">Land−Use Change and CDR</text>
<line x1="315.00" y1="252.50" x2="326.20" y2="252.50" stroke="#111" stroke-width="1.6"/>
<text x="331.70" y="255.70" font-size="8.9" text-anchor="start" fill="#555555" font-weight="normal" textLength="108.20" lengthAdjust="spacing">Current Policies: Emissions</text>
<line x1="315.00" y1="265.40" x2="326.20" y2="265.40" stroke="#111" stroke-width="1.6" stroke-dasharray="4.2 2.6"/>
<text x="331.70" y="268.60" font-size="8.9" text-anchor="start" fill="#555555" font-weight="normal" textLength="82.10" lengthAdjust="spacing">Net−zero: Emissions</text>
<circle cx="316.2" cy="278.30" r="0.9" fill="#111"/><circle cx="321.7" cy="278.30" r="0.9" fill="#111"/>
<text x="331.70" y="281.50" font-size="8.9" text-anchor="start" fill="#555555" font-weight="normal" textLength="112.70" lengthAdjust="spacing">Net−zero: Emissions (gross)</text>
<text x="475.10" y="165.00" font-size="8.9" text-anchor="start" fill="#444" font-weight="normal" textLength="25.60" lengthAdjust="spacing">Sector</text>
<rect x="475.9" y="171.10" width="11.2" height="10.8" fill="#c97b80" stroke="#b9606a" stroke-width="1"/>
<text x="492.80" y="179.70" font-size="9.08" text-anchor="start" fill="#555555" font-weight="normal" textLength="38.90" lengthAdjust="spacing">Electricity</text>
<rect x="475.9" y="184.26" width="11.2" height="10.8" fill="#dcbf76" stroke="#cfae5c" stroke-width="1"/>
<text x="492.80" y="192.86" font-size="9.08" text-anchor="start" fill="#555555" font-weight="normal" textLength="80.90" lengthAdjust="spacing">Non−electric Supply</text>
<rect x="475.9" y="197.42" width="11.2" height="10.8" fill="#d3e9f1" stroke="#c5e0ea" stroke-width="1"/>
<text x="492.80" y="206.02" font-size="9.08" text-anchor="start" fill="#555555" font-weight="normal" textLength="31.90" lengthAdjust="spacing">Industry</text>
<rect x="475.9" y="210.58" width="11.2" height="10.8" fill="#dcdcdc" stroke="#d0d0d0" stroke-width="1"/>
<text x="492.80" y="219.18" font-size="9.08" text-anchor="start" fill="#555555" font-weight="normal" textLength="36.60" lengthAdjust="spacing">Buildings</text>
<rect x="475.9" y="223.74" width="11.2" height="10.8" fill="#8080cc" stroke="#6a6abf" stroke-width="1"/>
<text x="492.80" y="232.34" font-size="9.08" text-anchor="start" fill="#555555" font-weight="normal" textLength="38.10" lengthAdjust="spacing">Transport</text>
<rect x="475.9" y="236.90" width="11.2" height="10.8" fill="#c8f5c8" stroke="#b8ecb8" stroke-width="1"/>
<text x="492.80" y="245.50" font-size="9.08" text-anchor="start" fill="#555555" font-weight="normal" textLength="75.30" lengthAdjust="spacing">Land−Use Change</text>
<rect x="475.9" y="250.06" width="11.2" height="10.8" fill="#78a878" stroke="#5f925f" stroke-width="1"/>
<text x="492.80" y="258.66" font-size="9.08" text-anchor="start" fill="#555555" font-weight="normal" textLength="31.40" lengthAdjust="spacing">BECCS</text>
<rect x="475.9" y="263.22" width="11.2" height="10.8" fill="#a5f3f8" stroke="#90eaf0" stroke-width="1"/>
<text x="492.80" y="271.82" font-size="9.08" text-anchor="start" fill="#555555" font-weight="normal" textLength="30.80" lengthAdjust="spacing">DACCS</text>
</g>
</svg>
</body></html>
